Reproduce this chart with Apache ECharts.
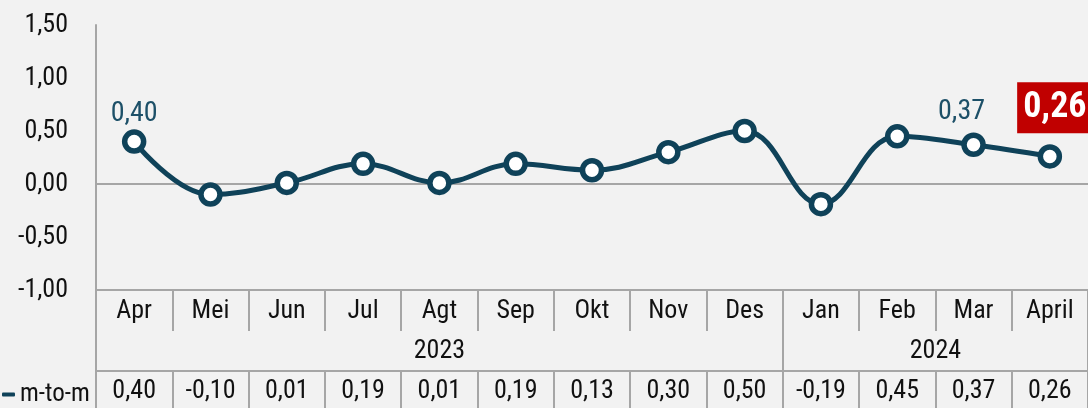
<!DOCTYPE html>
<html>
<head>
<meta charset="utf-8">
<script src="https://cdn.jsdelivr.net/npm/echarts@6/dist/echarts.min.js"></script>
<style>
  html, body { margin: 0; padding: 0; background: #f2f2f2; }
  #chart { width: 1088px; height: 408px; }
</style>
</head>
<body>
<div id="chart"></div>
<script>
const months = ['Apr', 'Mei', 'Jun', 'Jul', 'Agt', 'Sep', 'Okt', 'Nov', 'Des', 'Jan', 'Feb', 'Mar', 'April'];
const mtm = [0.40, -0.10, 0.01, 0.19, 0.01, 0.19, 0.13, 0.30, 0.50, -0.19, 0.45, 0.37, 0.26];
const years = ['2023', '2024'];
// year groups: [start index, end index] of month slots
const yearSpans = [[0, 9], [9, 13]];
const yTicks = { min: -1, max: 1.5, step: 0.5 };

const FONT = "'Roboto Condensed', 'Arial Narrow', 'Liberation Sans', sans-serif";
const TEAL = '#0f4259';
const GRID_LINE = '#a6a6a6';
const FS = 26;

function fmt(v) {
  return v.toFixed(2).replace('.', ',');
}

const chart = echarts.init(document.getElementById('chart'));

const seriesData = mtm.map((v, i) => {
  const item = { value: v };
  if (i === 0 || i === 11) {
    item.label = {
      show: true, position: 'top',
      distance: i === 11 ? 7 : 1,
      offset: [i === 11 ? -12 : 0, 0],
      color: '#1d5068', fontSize: 28, fontFamily: FONT,
      formatter: p => fmt(p.value)
    };
  }
  if (i === mtm.length - 1) {
    item.label = {
      show: true, position: 'top', distance: 11,
      color: '#fff', fontSize: 36, fontWeight: 'bold', fontFamily: FONT,
      backgroundColor: '#c00000', padding: [8, 6, 7, 6], offset: [5, 0],
      formatter: p => fmt(p.value)
    };
  }
  return item;
});

const yearCenters = yearSpans.map(s => (s[0] + s[1]) / 2);
const yearEdges = [0].concat(yearSpans.map(s => s[1]));

const option = {
  backgroundColor: '#f2f2f2',
  animation: false,
  textStyle: { fontFamily: FONT },
  legend: {
    data: ['m-to-m'],
    left: -3, top: 377,
    icon: 'roundRect', itemWidth: 13, itemHeight: 4, itemGap: 3,
    itemStyle: { color: TEAL, borderWidth: 0 },
    textStyle: { fontSize: 25, color: '#111', fontFamily: FONT }
  },
  grid: { left: 96, right: 0, top: 25, bottom: 118, containLabel: false },
  xAxis: [
    {
      type: 'category',
      data: months,
      position: 'bottom',
      axisLine: { onZero: false, lineStyle: { color: GRID_LINE, width: 2 } },
      axisTick: { show: true, interval: 0, length: 41, lineStyle: { color: GRID_LINE, width: 2 } },
      axisLabel: { interval: 0, margin: 21, color: '#111', fontSize: FS, fontFamily: FONT, verticalAlign: 'middle' }
    },
    {
      type: 'value',
      min: 0, max: 13,
      position: 'bottom',
      offset: 41,
      axisLine: { show: false, onZero: false },
      axisTick: { show: true, customValues: yearEdges, length: 40, lineStyle: { color: GRID_LINE, width: 2 } },
      axisLabel: {
        customValues: yearCenters,
        formatter: v => years[yearCenters.indexOf(v)] || '',
        margin: 20, color: '#111', fontSize: FS, fontFamily: FONT, verticalAlign: 'middle'
      },
      splitLine: { show: false }
    },
    {
      type: 'category',
      data: mtm.map(fmt),
      position: 'bottom',
      offset: 81,
      axisLine: { show: true, onZero: false, lineStyle: { color: GRID_LINE, width: 2 } },
      axisTick: { show: true, interval: 0, length: 38, lineStyle: { color: GRID_LINE, width: 2 } },
      axisLabel: { interval: 0, margin: 20, color: '#111', fontSize: FS, fontFamily: FONT, verticalAlign: 'middle' }
    }
  ],
  yAxis: {
    type: 'value',
    min: yTicks.min, max: yTicks.max, interval: yTicks.step,
    axisLine: { show: true, lineStyle: { color: GRID_LINE, width: 2 } },
    axisTick: { show: false },
    splitLine: { show: false },
    axisLabel: { formatter: fmt, color: '#111', fontSize: FS, margin: 28, fontFamily: FONT }
  },
  series: [
    {
      name: 'm-to-m',
      type: 'line',
      smooth: 0.4,
      data: seriesData,
      color: TEAL,
      lineStyle: { color: TEAL, width: 5 },
      symbol: 'circle',
      symbolSize: 19,
      itemStyle: { color: '#fff', borderColor: TEAL, borderWidth: 5.5 },
      markLine: {
        silent: true, symbol: 'none', label: { show: false },
        lineStyle: { color: GRID_LINE, width: 2, type: 'solid' },
        data: [{ yAxis: 0 }]
      },
      z: 5
    }
  ]
};

chart.setOption(option);
</script>
</body>
</html>
